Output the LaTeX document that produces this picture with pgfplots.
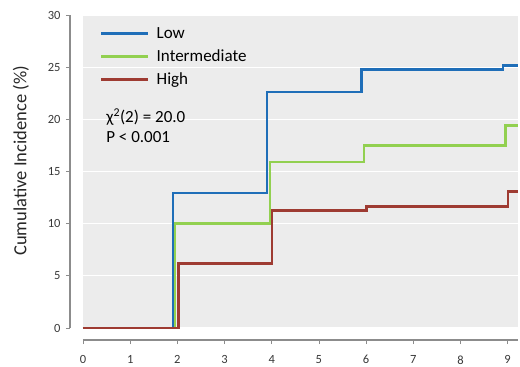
\documentclass[border=0pt]{standalone}
\usepackage{pgfplots}
\pgfplotsset{compat=1.18}
\usepackage{fontspec}
\setmainfont{Carlito}
\definecolor{cblue}{HTML}{1F6EB8}
\definecolor{cgreen}{HTML}{92D050}
\definecolor{cbrown}{HTML}{9E3B32}
\definecolor{bg}{HTML}{ECECEC}
\definecolor{axgray}{HTML}{8C8C8C}
\begin{document}
\begin{tikzpicture}
\path[use as bounding box] (-83pt,-39pt) rectangle (437pt,328pt);
\begin{axis}[
  at={(0,0)}, anchor=south west,
  scale only axis, width=435pt, height=313pt,
  xmin=0, xmax=9.22, ymin=0, ymax=30,
  clip=false,
  axis x line*=bottom, axis y line*=left,
  axis x line shift=12pt, axis y line shift=13pt,
  axis line style={axgray, line width=1.2pt},
  axis background/.style={fill=bg},
  ymajorgrids, grid style={white, line width=1pt},
  xtick={0,1,...,9}, ytick={0,5,...,30},
  tick style={axgray, line width=0.8pt},
  major tick length=4pt, tick align=outside,
  /pgf/number format/assume math mode=true,
  ticklabel style={font=\fontsize{12.5}{14}\selectfont, text=black!78},
  xticklabel style={yshift=-8pt},
  yticklabel style={xshift=-2pt},
  legend style={at={(axis description cs:0,1)}, anchor=north west, xshift=14pt, yshift=-8pt,
    draw=none, fill=none, font=\fontsize{17}{20}\selectfont, row sep=6pt,
    /tikz/every odd column/.append style={column sep=5pt}},
  legend cell align=left,
  legend image code/.code={\draw[#1, line width=2.5pt] (0pt,0pt) -- (47pt,0pt);},
  const plot,
]
\addplot[cblue, line width=2.5pt] coordinates {(0,0) (1.91,12.94) (3.9,22.6) (5.9,24.8) (8.9,25.15) (9.22,25.15)};
\addlegendentry{Low}
\addplot[cgreen, line width=2.5pt] coordinates {(0,0) (1.95,10.0) (3.96,15.9) (5.96,17.5) (8.96,19.4) (9.22,19.4)};
\addlegendentry{Intermediate}
\addplot[cbrown, line width=2.5pt] coordinates {(0,0) (2.02,6.17) (4.01,11.28) (6.01,11.63) (9.01,13.07) (9.22,13.07)};
\addlegendentry{High}
\node[anchor=west, font=\fontsize{17}{20}\selectfont, inner sep=0pt] at (axis cs:0.49,20.23) {χ\textsuperscript{2}(2) = 20.0};
\node[anchor=west, font=\fontsize{17}{20}\selectfont, inner sep=0pt] at (axis cs:0.49,18.3) {P < 0.001};
\node[rotate=90, font=\fontsize{18.5}{22}\selectfont, text=black!85] at ([xshift=-62pt]axis description cs:0,0.534) {Cumulative Incidence (\%)};
\end{axis}
\end{tikzpicture}
\end{document}
